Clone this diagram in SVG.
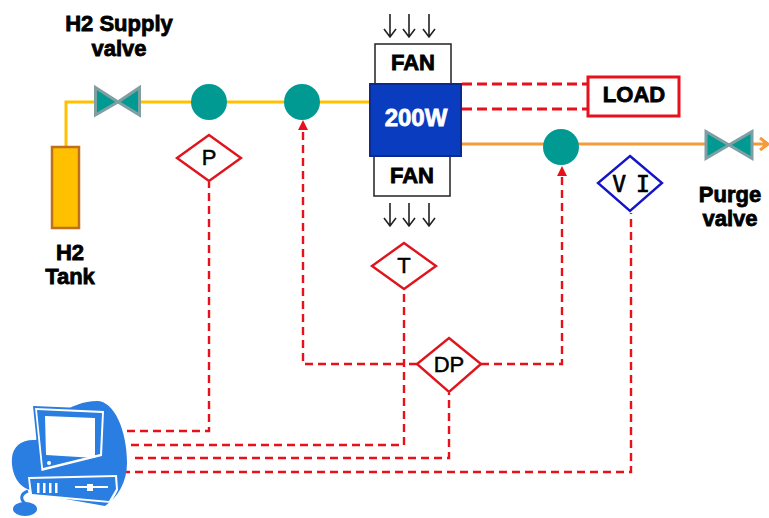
<svg xmlns="http://www.w3.org/2000/svg" width="769" height="518" viewBox="0 0 769 518">
<style>
.y{fill:none;stroke:#ffc000;stroke-width:3}
.o{fill:none;stroke:#f79a3a;stroke-width:3}
.d{fill:none;stroke:#e8101a;stroke-width:2.4;stroke-dasharray:8 5}
.l{stroke-width:3;stroke-dasharray:10 5}
.dot{fill:#009a93}
.v{fill:#009a93;stroke:#7f9fa3;stroke-width:3;stroke-linejoin:miter}
.t{font-family:"Liberation Sans",Arial,sans-serif;font-weight:bold;font-size:22px;fill:#000;text-anchor:middle;stroke:#000;stroke-width:.8}
.s{font-family:"Liberation Sans",Arial,sans-serif;font-size:22px;fill:#000;text-anchor:middle;stroke:#000;stroke-width:.5}
.dia{fill:#fff;stroke:#e0141c;stroke-width:2.4}
.fan{fill:#fff;stroke:#222;stroke-width:1.5}
.a{fill:none;stroke:#222;stroke-width:1.6}
.w{fill:#fff}
.b{fill:#2a7de1}
</style>
<g id="connectors">
<path class="y" d="M66 147V102H96M140 102H370"/>
<path class="o" d="M462 144H705M752 144H768M760 138L768 144L760 150"/>
<path class="d l" d="M462 84H588M462 109H588"/>
<path class="d" d="M127 431H209V182"/>
<path class="d" d="M131 445H404V290"/>
<path class="d" d="M135 458H449V393"/>
<path class="d" d="M122 472H631V213"/>
<path class="d" d="M417 364H303V130"/>
<path class="d" d="M481 364H562V176"/>
<path d="M303 120L298 130H308Z M562 166L557 176H567Z" fill="#e8101a"/>
<path class="a" d="M390 14V37M384 29L390 37L396 29M409 14V37M403 29L409 37L415 29M429 14V37M423 29L429 37L435 29"/>
<path class="a" d="M390 203V226M384 218L390 226L396 218M409 203V226M403 218L409 226L415 218M429 203V226M423 218L429 226L435 218"/>
</g>
<g id="h2-tank"><rect x="52" y="147" width="27" height="81" fill="#ffc000" stroke="#c0701a" stroke-width="2.5"/>
<text class="t" x="70" y="260">H2</text><text class="t" x="70" y="284">Tank</text></g>
<g id="supply-valve"><path class="v" d="M95.500 87.500L118 102L95.500 115ZM139.500 87.500L118 102L139.500 115Z"/>
<text class="t" x="119" y="31">H2 Supply</text><text class="t" x="119" y="56">valve</text></g>
<g id="node-1"><circle class="dot" cx="209" cy="102" r="18"/></g>
<g id="node-2"><circle class="dot" cx="302" cy="102" r="18"/></g>
<g id="node-3"><circle class="dot" cx="561" cy="147" r="18"/></g>
<g id="fan-top"><rect class="fan" x="375" y="44" width="76" height="40"/><text class="t" x="413" y="70">FAN</text></g>
<g id="fan-bottom"><rect class="fan" x="374" y="156" width="76" height="40"/><text class="t" x="412" y="183">FAN</text></g>
<g id="stack"><rect x="370" y="84" width="91" height="72" fill="#0a3cc0" stroke="#0a2a90" stroke-width="2"/>
<text class="t" x="416" y="126" style="fill:#fff;stroke:#fff;font-size:24px">200W</text></g>
<g id="load"><rect x="588" y="77" width="91" height="39" fill="#fff" stroke="#e8101a" stroke-width="3"/><text class="t" x="634" y="102">LOAD</text></g>
<g id="purge-valve"><path class="v" d="M706 131.500L729 145L706 158.500ZM752 131.500L729 145L752 158.500Z"/>
<text class="t" x="730" y="202">Purge</text><text class="t" x="730" y="226">valve</text></g>
<g id="p"><path class="dia" d="M209 135L241 158L209 181L177 158Z"/><text class="s" x="209" y="165">P</text></g>
<g id="t"><path class="dia" d="M404 243L436 266L404 289L372 266Z"/><text class="s" x="404" y="273">T</text></g>
<g id="dp"><path class="dia" d="M449 338L481 364L449 392L417 364Z"/><text class="s" x="449" y="372">DP</text></g>
<g id="vi"><path class="dia" style="stroke:#1414c8" d="M630 156L662 183L630 211L598 183Z"/><text class="s" x="630" y="192" style="font-family:'DejaVu Sans Mono',monospace;letter-spacing:-2px;font-size:23px;stroke-width:.7">V I</text></g>
<g id="computer">
<path class="b" d="M97 401C114 401 127 430 127 463C127 482 118 497 105 506L60 498L30 490C16 486 11 470 12 458C13 446 22 439 36 440L60 415C70 406 84 401 97 401Z"/>
<path class="b" d="M33 406L106 409L104 458L40 474Z"/>
<path class="w" d="M35 408L104 411L102 456L41.500 471Z"/>
<path class="b" d="M37 410L102 413L100 454L43 468Z"/>
<path class="w" d="M45 416L95 418L95 458L46 455Z"/>
<circle class="w" cx="49" cy="463" r="2"/>
<path class="w" d="M28 477L117 475L118 490L111 503L30 496Z"/>
<path class="b" d="M30 479L115 477L116 489L109 501L32 494Z"/>
<path class="w" d="M37 483h2.500v10h-2.500zM43 483h2.500v10h-2.500zM49 483h2.500v10h-2.500zM55 483h2.500v10h-2.500zM75 486h12v-2h6v2h15v2h-15v3h-6v-3h-12z"/>
<ellipse class="b" cx="25" cy="509" rx="12" ry="7"/>
<path d="M28 491C20 494 20 500 26 504" fill="none" stroke="#2a7de1" stroke-width="3"/>
</g>
</svg>
